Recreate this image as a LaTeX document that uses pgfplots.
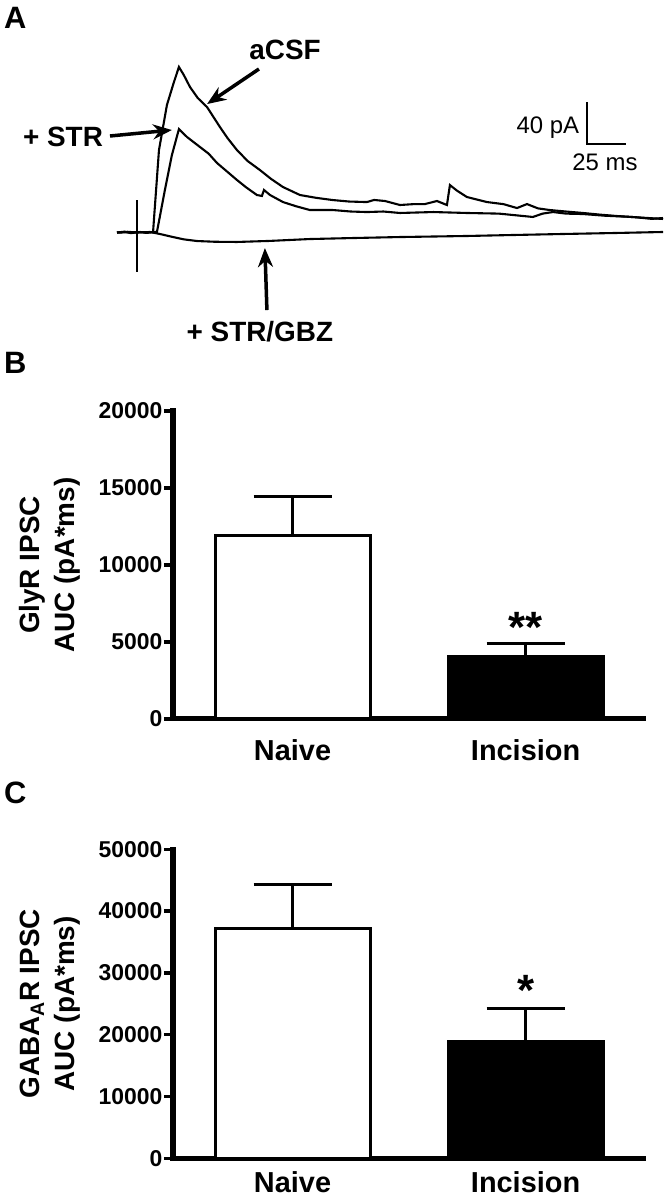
\documentclass[border=0pt]{standalone}
\usepackage{fontspec}
\setmainfont{Liberation Sans}
\usepackage{pgfplots}
\pgfplotsset{compat=1.18}
\usetikzlibrary{arrows.meta}

\pgfplotsset{
  barpanel/.style={
    scale only axis, anchor=south west, width=470bp,
    xmin=-0.513, xmax=1.504, ymin=0,
    axis x line*=bottom, axis y line*=left,
    axis line style={line width=5bp, -, line cap=rect},
    xtick={0,1}, xticklabels={Naive,Incision},
    x tick style={draw=none},
    scaled y ticks=false,
    y tick style={line width=3.5bp, black},
    tick align=outside, major tick length=9bp,
    /pgf/number format/1000 sep={},
    /pgf/number format/assume math mode=true,
    yticklabel style={font=\fontsize{23}{23}\selectfont\bfseries, inner sep=1.5bp},
    xticklabel style={font=\fontsize{29}{29}\selectfont\bfseries, anchor=base, inner sep=0pt, text depth=0pt, yshift=-33bp},
    ylabel style={align=center, font=\fontsize{28}{35}\selectfont\bfseries,
      at={(axis description cs:-0.262,0.5)}, anchor=center},
    clip=false,
  },
  barstyle/.style={ybar, bar width=155bp, bar shift=0pt, draw=black, line width=3bp,
    error bars/y dir=plus, error bars/y explicit,
    error bars/error mark=|,
    error bars/error bar style={line width=3bp, black},
    error bars/error mark options={line width=3bp, mark size=39bp, black}},
}

\begin{document}
\begin{tikzpicture}
\useasboundingbox (0bp,0bp) rectangle (668bp,1199bp);

% ---------------- Panel A ----------------
\begin{axis}[at={(0bp,869bp)}, anchor=south west, scale only axis,
  width=668bp, height=330bp,
  xmin=-87.8, xmax=340.4, ymin=-92.8, ymax=221.4,
  hide axis, clip=false]
% aCSF
\addplot[black, line width=2.1bp] coordinates {
(-12.8,0) (-8,0.8) (-4,-0.6) (2,0.5) (6,-0.4) (10.3,0.3) (14.1,78.5) (19.2,121.4) (23.7,143.3) (26.9,157.6)
(30,150) (34.0,138.5) (39,128) (44.9,119.5) (53.2,100.4) (58,90) (64.1,78.5) (71,68) (78.8,59.5)
(86,51) (93.6,43.3) (104.5,35.7) (115,33) (125.6,30.9) (136,29.5) (147.4,29.0) (152,31) (159.0,30.0)
(168.6,26.2) (177,27) (184.6,27.1) (192.3,30.0) (198.7,26.2) (200.6,45.2) (205,40) (211.5,33.8)
(224.4,29.0) (235,27) (243.6,23.3) (250.0,27.1) (257,23) (264.7,21.4) (275,20) (285.9,18.6)
(297,17) (307.7,15.7) (320,14.5) (330,13) (337.2,13.8)};
% + STR
\addplot[black, line width=2.1bp] coordinates {
(-12.8,0) (12.8,0.5) (17.9,40.5) (22.4,73.8) (26.9,98.5) (32.1,90.9) (40.4,81.4) (46,75) (51.3,66.2)
(57,59) (64.1,50.0) (70,43) (76.9,35.7) (80.1,34.8) (81.4,40.5) (85.3,35.7) (93.6,29.0) (102,25)
(110.9,21.4) (125.6,21.4) (137,20) (147.4,19.5) (158,20) (168.6,18.6) (190,19.5) (211.5,18.6)
(232,18) (253.8,14.8) (260,18) (266.7,19.5) (275,18) (285.9,17.6) (300,16) (315,15) (337.2,12.9)};
% + STR/GBZ
\addplot[black, line width=2.1bp] coordinates {
(-12.8,0) (-6,0.7) (0,0) (8.3,0.5) (15,-1.5) (23.1,-4.3) (30,-6.5) (38.5,-8.1) (50,-8.8) (64.1,-9.0)
(85,-8) (110.9,-6.2) (140,-5.2) (168.6,-4.3) (190,-3.8) (211.5,-3.3) (240,-2.4) (273.1,-1.4)
(305,-0.5) (337.2,0.5)};
% stimulus artifact
\addplot[black, line width=2bp] coordinates {(0,30.9) (0,-37.6)};
% scale bar
\addplot[black, line width=2bp] coordinates {(288.5,124.2) (288.5,84.3) (313.5,84.3)};

\node[font=\fontsize{28}{28}\selectfont\bfseries] at (axis cs:94.9,173.7) {aCSF};
\node[font=\fontsize{28}{28}\selectfont\bfseries] at (axis cs:-47.4,90.9) {+ STR};
\node[font=\fontsize{28}{28}\selectfont\bfseries] at (axis cs:78.8,-94.7) {+ STR/GBZ};
\node[font=\fontsize{24}{24}\selectfont, anchor=east, inner sep=0pt] at (axis cs:283.5,99.5) {40 pA};
\node[font=\fontsize{24}{24}\selectfont] at (axis cs:300.0,67.1) {25 ms};

\draw[line width=3.5bp, -{Stealth[length=19bp,width=15bp]}] (axis cs:78.2,155.7) -- (axis cs:44.9,122.3);
\draw[line width=3.5bp, -{Stealth[length=19bp,width=15bp]}] (axis cs:-17.3,91.9) -- (axis cs:22.4,97.6);
\draw[line width=3.5bp, -{Stealth[length=19bp,width=15bp]}] (axis cs:83.3,-73.8) -- (axis cs:82.0,-14.8);
\end{axis}

% ---------------- Panel B ----------------
\begin{axis}[barpanel, at={(173bp,480bp)}, height=308bp, ymax=20000,
  ytick={0,5000,10000,15000,20000},
  ylabel={GlyR IPSC\\AUC (pA*ms)}]
\addplot[barstyle, fill=white] coordinates {(0,11900) +- (0,2550)};
\addplot[barstyle, fill=black] coordinates {(1,4050) +- (0,880)};
\node[font=\fontsize{44}{44}\selectfont\bfseries, anchor=base, inner sep=0pt, yshift=-25bp] at (axis cs:1,6623) {**};
\end{axis}

% ---------------- Panel C ----------------
\begin{axis}[barpanel, at={(173bp,40.7bp)}, height=309bp, ymax=50000,
  ytick={0,10000,20000,30000,40000,50000},
  xticklabel style={yshift=8bp},
  ylabel={GABA\textsubscript{A}R IPSC\\AUC (pA*ms)}]
\addplot[barstyle, fill=white] coordinates {(0,37200) +- (0,7100)};
\addplot[barstyle, fill=black] coordinates {(1,18900) +- (0,5400)};
\node[font=\fontsize{44}{44}\selectfont\bfseries, anchor=base, inner sep=0pt, yshift=-25bp] at (axis cs:1,28690) {*};
\end{axis}

% panel letters
\node[font=\fontsize{31}{31}\selectfont\bfseries, anchor=west, inner sep=0pt] at (4bp,1181bp) {A};
\node[font=\fontsize{31}{31}\selectfont\bfseries, anchor=west, inner sep=0pt] at (4bp,836bp) {B};
\node[font=\fontsize{31}{31}\selectfont\bfseries, anchor=west, inner sep=0pt] at (4bp,406bp) {C};
\end{tikzpicture}
\end{document}
